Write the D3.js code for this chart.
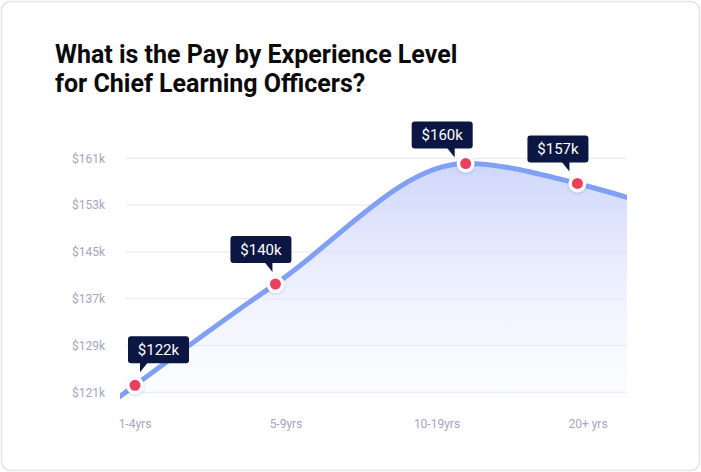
<!DOCTYPE html>
<html><head><meta charset="utf-8">
<script src="https://cdn.jsdelivr.net/npm/d3@7"></script>
<style>
html,body{margin:0;padding:0;background:#fff;}
svg{display:block;font-family:Roboto,"Noto Sans",sans-serif;}
</style></head>
<body><svg id="c" width="701" height="472"></svg>
<script>
// ---- data ----
const categories = ["1-4yrs", "5-9yrs", "10-19yrs", "20+ yrs"];
const salaries = [122.2, 139.5, 160.1, 156.7];          // $k
const salaryLabels = ["$122k", "$140k", "$160k", "$157k"];
const pointPositions = [0, 0.93, 2.19, 2.93];           // position in category units
const yTicks = [121, 129, 137, 145, 153, 161];
const curveStart = {pos: -0.12, value: 119.9};
const curveEnd = {pos: 3.3, value: 154.0};

// ---- layout ----
const svg = d3.select("#c");
const W = 701, H = 472;
const plotLeft = 126, plotRight = 627;
const x = d3.scaleLinear().domain([0, 3]).range([135, 588]);
const xCat = d3.scalePoint().domain(categories).range([135, 588]);
const y = d3.scaleLinear().domain([121, 161]).range([392.3, 158.3]);

const defs = svg.append("defs");
const f = defs.append("filter").attr("id","sh").attr("x","-50%").attr("y","-50%").attr("width","200%").attr("height","200%");
f.append("feDropShadow").attr("dx",0).attr("dy",1).attr("stdDeviation",1.5).attr("flood-color","#1a2a6c").attr("flood-opacity",0.18);
const g = defs.append("linearGradient").attr("id","fillg").attr("x1",0).attr("y1",0).attr("x2",0).attr("y2",1);
g.append("stop").attr("offset","0%").attr("stop-color","#c9d2fa").attr("stop-opacity",0.9);
g.append("stop").attr("offset","100%").attr("stop-color","#eef0fd").attr("stop-opacity",0.15);
defs.append("clipPath").attr("id","clip").append("rect")
  .attr("x", plotLeft - 6).attr("y", 100).attr("width", plotRight - plotLeft + 6).attr("height", 320);

// card
svg.append("rect").attr("x",1.5).attr("y",1.5).attr("width",W-3).attr("height",H-3).attr("rx",9)
  .attr("fill","#fff").attr("stroke","#e4e4e4").attr("stroke-width",1.5);

// title
const title = svg.append("text").attr("fill","#0a0a0a")
  .attr("font-size",25).attr("font-weight",700);
title.append("tspan").attr("x",55).attr("y",63).text("What is the Pay by Experience Level");
title.append("tspan").attr("x",55).attr("y",92).text("for Chief Learning Officers?");

// grid + y labels
const yAxis = svg.append("g");
yAxis.selectAll("line").data(yTicks).join("line")
  .attr("x1", plotLeft).attr("x2", plotRight)
  .attr("y1", d => y(d)).attr("y2", d => y(d))
  .attr("stroke","#e4e7f2").attr("stroke-width",1);
yAxis.selectAll("text").data(yTicks).join("text")
  .attr("x", 72).attr("y", d => y(d)).attr("dy","0.35em")
  .attr("font-size",12).attr("fill","#a5a5bd").text(d => "$" + d + "k");

// x labels
svg.append("g").selectAll("text").data(categories).join("text")
  .attr("x", d => xCat(d)).attr("y", 428).attr("text-anchor","middle")
  .attr("font-size",12).attr("fill","#a5a5bd").text(d => d);

// line + area
const pts = [curveStart].concat(salaries.map((v,i)=>({pos: pointPositions[i], value: v}))).concat([curveEnd]);
const plot = svg.append("g").attr("clip-path","url(#clip)");
const area = d3.area().x(d => x(d.pos)).y0(y(121) + 6).y1(d => y(d.value)).curve(d3.curveMonotoneX);
const line = d3.line().x(d => x(d.pos)).y(d => y(d.value)).curve(d3.curveMonotoneX);
plot.append("path").datum(pts).attr("d", area).attr("fill","url(#fillg)");
plot.append("path").datum(pts).attr("d", line).attr("fill","none").attr("stroke","#7fa0f5").attr("stroke-width",5);

// dots
const dots = svg.append("g").selectAll("g").data(salaries).join("g")
  .attr("transform",(d,i)=>`translate(${x(pointPositions[i])},${y(d)})`);
dots.append("circle").attr("r",9).attr("fill","#fff").attr("filter","url(#sh)");
dots.append("circle").attr("r",5.5).attr("fill","#e9405f");

// callouts
const calloutLayout = [
  {dx: -7,  dy: -22, tail: "left",  tx: 5},
  {dx: -45, dy: -21, tail: "right", tx: -3},
  {dx: -54, dy: -15, tail: "right", tx: -11},
  {dx: -50, dy: -21, tail: "right", tx: -8}
];
const bw = 61, bh = 27;
const callouts = svg.append("g").selectAll("g").data(salaryLabels).join("g");
callouts.each(function(lbl, i){
  const cx = x(pointPositions[i]), cy = y(salaries[i]);
  const L = calloutLayout[i];
  const left = cx + L.dx, bottom = cy + L.dy;
  const s = d3.select(this);
  s.append("rect").attr("x", left).attr("y", bottom - bh).attr("width", bw).attr("height", bh)
    .attr("rx", 3).attr("fill", "#0b1742");
  const tx = cx + L.tx;
  const tri = L.tail === "left"
    ? [[tx, bottom - 1], [tx + 8, bottom - 1], [tx, bottom + 9]]
    : [[tx - 8, bottom - 1], [tx, bottom - 1], [tx, bottom + 9]];
  s.append("path").attr("d", d3.line()(tri) + "Z").attr("fill", "#0b1742");
  s.append("text").attr("x", left + bw/2).attr("y", bottom - bh/2).attr("dy","0.36em")
    .attr("text-anchor","middle").attr("font-size",15).attr("fill","#fff").text(lbl);
});
</script></body></html>
